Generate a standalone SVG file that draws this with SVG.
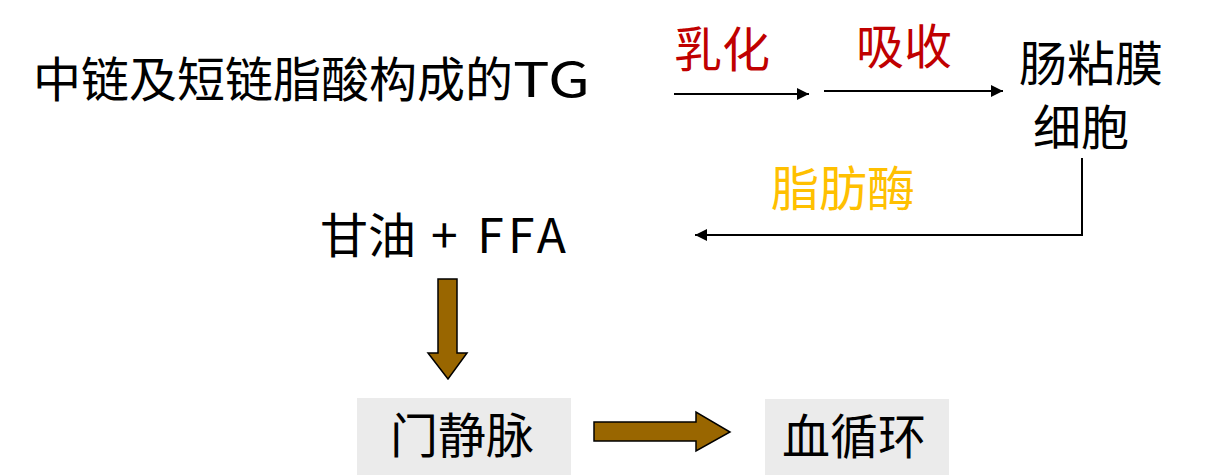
<svg xmlns="http://www.w3.org/2000/svg" width="1221" height="475" viewBox="0 0 1221 475">
  <style>
    text { font-family: "Noto Sans CJK SC", "Noto Sans", sans-serif; font-size: 48px; fill: #000; }
    .red { fill: #C00000; }
    .yellow { fill: #FFC000; }
    .line { fill: none; stroke: #000; stroke-width: 2; }
    .box { fill: #EBEBEB; }
    .block { fill: #996600; stroke: #000; stroke-width: 1.5; stroke-linejoin: miter; }
  </style>
  <defs>
    <marker id="arrow" viewBox="0 0 12 12" refX="12" refY="6" markerWidth="12" markerHeight="12" markerUnits="userSpaceOnUse" orient="auto">
      <path d="M0,0 L12,6 L0,12 Z" fill="#000"/>
    </marker>
  </defs>
  <rect width="1221" height="475" fill="#fff"/>

  <g id="node-tg">
    <text x="33" y="97">中链及短链脂酸构成的<tspan x="513" textLength="77" lengthAdjust="spacingAndGlyphs">TG</tspan></text>
  </g>
  <g id="node-intestine">
    <text x="1019" y="81">肠粘膜</text>
    <text x="1033" y="145">细胞</text>
  </g>
  <g id="node-glycerol">
    <text x="320" y="253">甘油<tspan textLength="150" lengthAdjust="spacing"> + FFA</tspan></text>
  </g>
  <g id="node-portal">
    <rect class="box" x="357" y="398" width="214" height="77"/>
    <text x="390" y="453">门静脉</text>
  </g>
  <g id="node-circulation">
    <rect class="box" x="765" y="399" width="184" height="76"/>
    <text x="782" y="454">血循环</text>
  </g>

  <g id="connectors">
    <line class="line" x1="674" y1="94" x2="809" y2="94" marker-end="url(#arrow)"/>
    <line class="line" x1="824" y1="91" x2="1003" y2="91" marker-end="url(#arrow)"/>
    <path class="line" d="M1082,158 V235 H695" marker-end="url(#arrow)"/>
    <polygon class="block" points="438,279 457,279 457,353 467,353 448,379 428,353 438,353"/>
    <polygon class="block" points="594,422 696,422 696,412 730,432 696,451 696,441 594,441"/>
    <text class="red" x="674" y="67">乳化</text>
    <text class="red" x="856" y="64">吸收</text>
    <text class="yellow" x="771" y="206">脂肪酶</text>
  </g>
</svg>
